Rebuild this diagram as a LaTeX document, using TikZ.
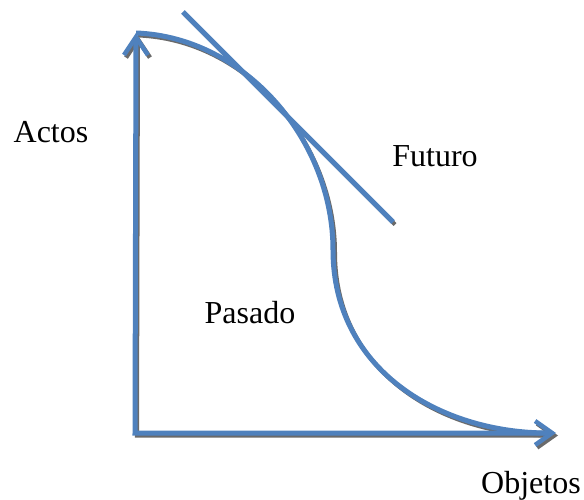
\documentclass[tikz,border=0pt]{standalone}
\usepackage{fontspec}
\setmainfont{Liberation Serif}
\usetikzlibrary{arrows.meta}
\definecolor{AxisBlue}{HTML}{4F81BD}
\definecolor{Shade}{HTML}{6A6A6A}

\begin{document}
\begin{tikzpicture}[x=1pt, y=-1pt, line join=miter,
    every node/.style={font=\fontsize{32}{38}\selectfont, anchor=base, inner sep=0pt},
    bluecurve/.style={AxisBlue, line width=5pt},
    shadecurve/.style={Shade, line width=4pt, transform canvas={shift={(2pt,-2.5pt)}}},
    axistips/.style={{Straight Barb[length=18pt, width=24pt, line width=4.5pt]}-{Straight Barb[length=17pt, width=24pt, line width=4.5pt]}}]

  \useasboundingbox (0,0) rectangle (584,500);

  % key points
  \coordinate (origin) at (135,433);
  \coordinate (ytip) at (136,33);
  \coordinate (xtip) at (556,433);
  \coordinate (bend) at (333,250);
  \coordinate (curveend) at (548,433);
  \coordinate (tanA) at (183,12);
  \coordinate (tanB) at (393,222);

  % shadows
  \draw[shadecurve, axistips] (ytip) -- (origin) -- (xtip);
  \draw[shadecurve] (ytip) .. controls (245,37) and (333,140) .. (bend)
    .. controls (333,370) and (440,433) .. (curveend);
  \draw[shadecurve] (tanA) -- (tanB);

  % axes, curve and tangent
  \draw[bluecurve, axistips] (ytip) -- (origin) -- (xtip);
  \draw[bluecurve] (ytip) .. controls (245,37) and (333,140) .. (bend)
    .. controls (333,370) and (440,433) .. (curveend);
  \draw[bluecurve] (tanA) -- (tanB);

  % labels
  \node (actos) at (51,143) {Actos};
  \node (futuro) at (435,167) {Futuro};
  \node (pasado) at (250,323) {Pasado};
  \node (objetos) at (531,493) {Objetos};
\end{tikzpicture}
\end{document}
